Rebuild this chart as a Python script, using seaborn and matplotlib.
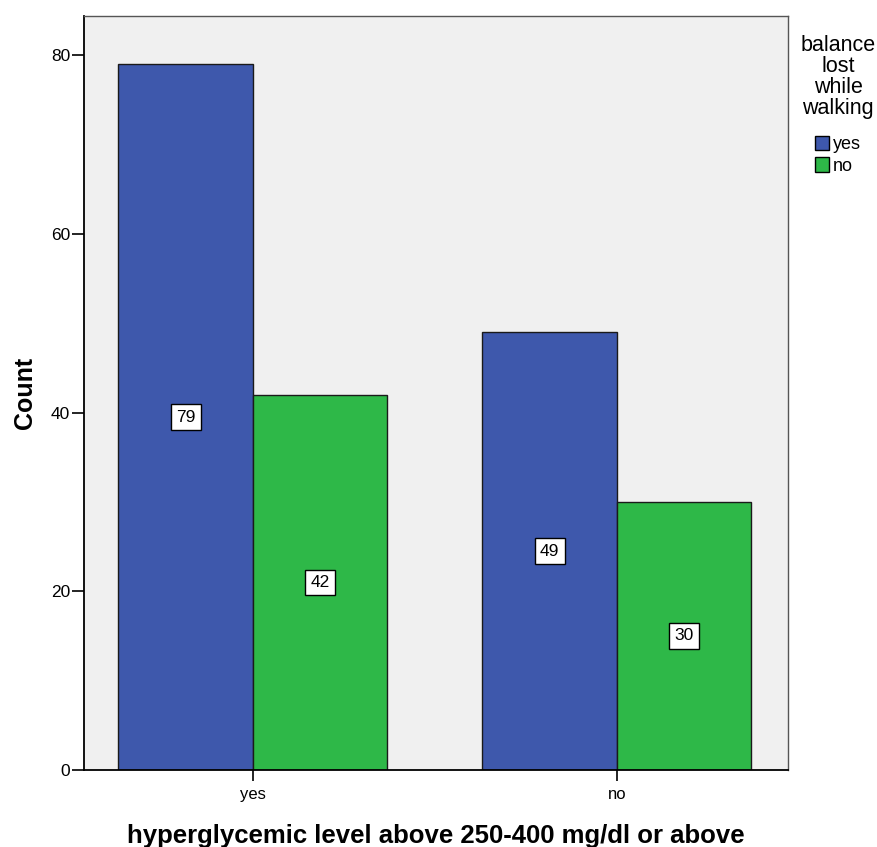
import matplotlib
matplotlib.use("Agg")
import matplotlib.pyplot as plt
import seaborn as sns
import pandas as pd
from matplotlib.patches import Patch

categories = ["yes", "no"]
hue_levels = ["yes", "no"]
counts_balance_yes = [79, 49]
counts_balance_no = [42, 30]

df = pd.DataFrame({
    "hyper": categories * 2,
    "balance": ["yes"] * 2 + ["no"] * 2,
    "count": counts_balance_yes + counts_balance_no,
})

sns.set_theme(style="white")
plt.rcParams["font.family"] = ["Liberation Sans", "DejaVu Sans"]
plt.rcParams["text.color"] = "black"
plt.rcParams["axes.labelcolor"] = "black"
plt.rcParams["xtick.color"] = "black"
plt.rcParams["ytick.color"] = "black"

fig = plt.figure(figsize=(8.77, 8.47), dpi=100)
ax = fig.add_axes([84/877, 1-770/847, (788-84)/877, (770-16)/847])
ax.set_facecolor("#F0F0F0")

palette = {"yes": "#3E58AC", "no": "#2EB848"}
sns.barplot(data=df, x="hyper", y="count", hue="balance", order=categories,
            hue_order=hue_levels, palette=palette, width=0.739, dodge=True,
            edgecolor="#1a1a1a", linewidth=1.0, saturation=1, legend=False, ax=ax)

for cont in ax.containers:
    for rect, val in zip(cont, cont.datavalues):
        ax.text(rect.get_x() + rect.get_width()/2, val/2, f"{int(val)}",
                ha="center", va="center", fontsize=12.5,
                bbox=dict(boxstyle="square,pad=0.3", fc="white", ec="black", lw=1))

ax.set_xlim(-0.464, 1.470)
ax.set_ylim(0, 84.4)
ax.set_yticks([0, 20, 40, 60, 80])
ax.tick_params(axis="y", length=9, width=1.2, labelsize=12.5, left=True, pad=1)
ax.tick_params(axis="x", length=8, width=1.2, labelsize=12, bottom=True, pad=4)
ax.set_xlabel("hyperglycemic level above 250-400 mg/dl or above",
              fontsize=18.5, fontweight="bold", labelpad=16)
ax.set_ylabel("Count", fontsize=18, fontweight="bold", labelpad=10)

for s in ["left", "bottom"]:
    ax.spines[s].set_color("black")
    ax.spines[s].set_linewidth(1.3)
for s in ["top", "right"]:
    ax.spines[s].set_color("#555555")
    ax.spines[s].set_linewidth(1.0)

handles = [Patch(facecolor=palette[h], edgecolor="black", label=h) for h in hue_levels]
leg = fig.legend(handles=handles, title="balance\nlost\nwhile\nwalking",
                 loc="upper center", bbox_to_anchor=(838/877, 1-24/847),
                 frameon=False, fontsize=13, title_fontsize=15.5,
                 handlelength=0.75, handleheight=0.9, handletextpad=0.2,
                 labelspacing=0.2, borderpad=0.1)
t = leg.get_title()
t.set_multialignment("center")
t.set_linespacing(1.0)
leg._legend_box.sep = 12

fig.savefig("out.png", dpi=100)
